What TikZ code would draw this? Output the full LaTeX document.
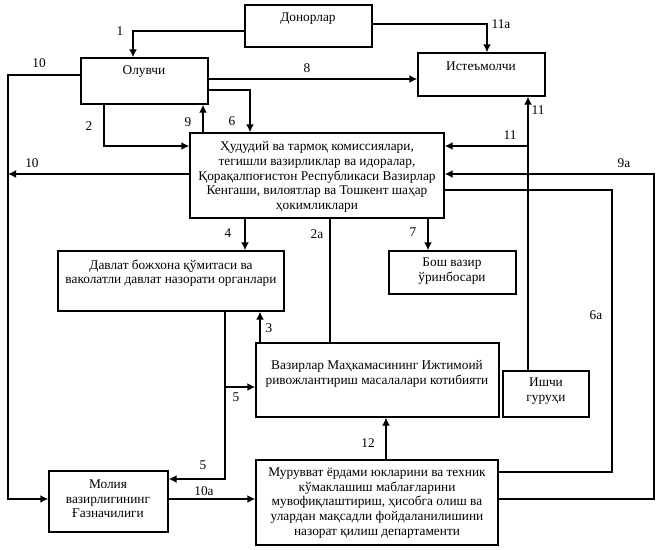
\documentclass[tikz,border=0pt]{standalone}
\usepackage{fontspec}
\setmainfont{Liberation Serif}
\usetikzlibrary{arrows.meta,fit}
\begin{document}
\begin{tikzpicture}[x=0.75pt,y=-0.75pt,
 box/.style={draw,line width=1.1pt,inner sep=0pt},
 ln/.style={line width=1.1pt},
 arr/.style={ln,-{Latex[length=6pt,width=6pt]}},
 txt/.style={align=center,inner sep=0pt,font=\fontsize{10}{11}\selectfont},
 num/.style={inner sep=0pt,font=\fontsize{10}{12}\selectfont}]
\fill[white] (0,0) rectangle (661,550);
\useasboundingbox (0,0) rectangle (661,550);
% boxes
\node[box,fit={(245,5)(372,47)}] (don) {};
\node[box,fit={(81,58)(208,104)}] (olu) {};
\node[box,fit={(418,53)(545,96)}] (ist) {};
\node[box,fit={(190,133)(444,218)}] (hud) {};
\node[box,fit={(58,251)(284,311)}] (dav) {};
\node[box,fit={(389,251)(516,294)}] (bosh) {};
\node[box,fit={(256,343)(499,417)}] (vaz) {};
\node[box,fit={(503,371)(589,417)}] (ish) {};
\node[box,fit={(49,471)(168,532)}] (mol) {};
\node[box,fit={(256,460)(498,545)}] (mur) {};
% texts
\node[txt] (tdon) at (308,19) {Донорлар};
\node[txt] (tolu) at (144,72) {Олувчи};
\node[txt] (tist) at (481,66) {Истеъмолчи};
\node[txt] (thud) at (317,177) {Ҳудудий ва тармоқ комиссиялари,\\ тегишли вазирликлар ва идоралар,\\ Қорақалпоғистон Республикаси Вазирлар\\ Кенгаши, вилоятлар ва Тошкент шаҳар\\ ҳокимликлари};
\node[txt] (tdav) at (171,273) {Давлат божхона қўмитаси ва\\ ваколатли давлат назорати органлари};
\node[txt] (tbosh) at (452,271) {Бош вазир\\ ўринбосари};
\node[txt] (tvaz) at (377,374) {Вазирлар Маҳкамасининг Ижтимоий\\ ривожлантириш масалалари котибияти};
\node[txt] (tish) at (546,391) {Ишчи\\ гуруҳи};
\node[txt] (tmol) at (108,499) {Молия\\ вазирлигининг\\ Ғазначилиги};
\node[txt] (tmur) at (377,503) {Мурувват ёрдами юкларини ва техник\\ кўмаклашиш маблағларини\\ мувофиқлаштириш, ҳисобга олиш ва\\ улардан мақсадли фойдаланилишини\\ назорат қилиш департаменти};
% connectors
\draw[arr] (don.west |- 0,31) -| (olu.north -| 133,0);
\draw[arr] (don.east |- 0,24) -| (ist.north -| 487,0);
\draw[arr] (olu.east |- 0,79) -- (ist.west |- 0,79);
\draw[arr] (olu.west |- 0,75) -| (8,499) -- (mol.west |- 0,499);
\draw[arr] (olu.east |- 0,90) -| (hud.north -| 250,0);
\draw[arr] (hud.north -| 203,0) -- (olu.south -| 203,0);
\draw[arr] (olu.south -| 104,0) |- (hud.west |- 0,146);
\coordinate (l10) at (8,174);
\draw[arr] (hud.west |- 0,174) -- (l10);
\draw[arr] (hud.south -| 245,0) -- (dav.north -| 245,0);
\draw[ln] (hud.south -| 330,0) -- (vaz.north -| 330,0);
\draw[arr] (hud.south -| 428,0) -- (bosh.north -| 428,0);
\draw[arr] (vaz.north -| 260,0) -- (dav.south -| 260,0);
\draw[arr] (dav.south -| 225,0) |- (mol.east |- 0,479);
\coordinate (b5) at (225,387);
\draw[arr] (b5) -- (vaz.west |- 0,387);
\draw[arr] (mol.east |- 0,499) -- (mur.west |- 0,499);
\draw[arr] (mur.north -| 386,0) -- (vaz.south -| 386,0);
\draw[arr] (ish.north -| 528,0) -- (ist.south -| 528,0);
\coordinate (b11) at (528,146);
\draw[arr] (b11) -- (hud.east |- 0,146);
\draw[arr] (mur.east |- 0,499) -| (654,174) -- (hud.east |- 0,174);
\draw[ln] (hud.east |- 0,190) -| (612,472) -- (mur.east |- 0,472);
% labels
\node[num] (n1) at (120,31) {1};
\node[num] (n11a) at (501,24) {11а};
\node[num] (n8) at (307,68) {8};
\node[num] (n10a) at (39,63) {10};
\node[num] (n6) at (232,121) {6};
\node[num] (n9) at (188,122) {9};
\node[num] (n2) at (89,126) {2};
\node[num] (n10b) at (32,163) {10};
\node[num] (n4) at (228,233) {4};
\node[num] (n2a) at (317,234) {2а};
\node[num] (n7) at (413,232) {7};
\node[num] (n3) at (269,328) {3};
\node[num] (n5a) at (236,397) {5};
\node[num] (n5b) at (203,465) {5};
\node[num] (n10c) at (204,491) {10а};
\node[num] (n12) at (368,443) {12};
\node[num] (n11b) at (538,110) {11};
\node[num] (n11c) at (510,135) {11};
\node[num] (n9a) at (624,163) {9а};
\node[num] (n6a) at (596,315) {6а};
\end{tikzpicture}
\end{document}
